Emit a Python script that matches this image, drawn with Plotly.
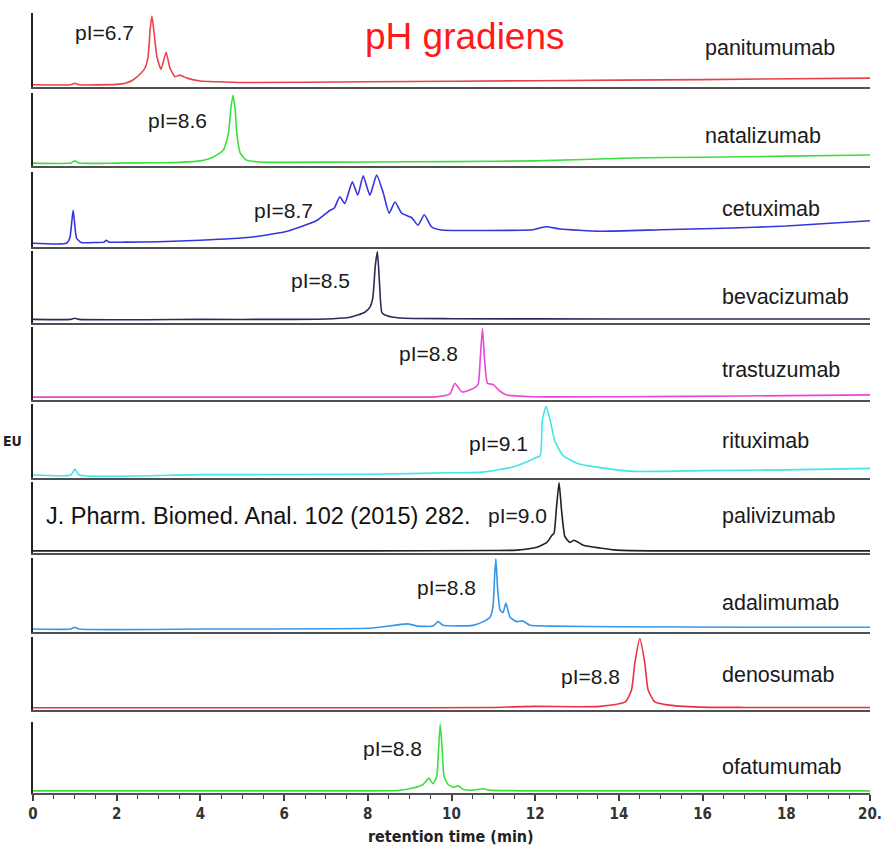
import plotly.graph_objects as go

# ---------------- data (retention time in min, signal in % of panel height) ----------------
names = ["panitumumab", "natalizumab", "cetuximab", "bevacizumab", "trastuzumab",
         "rituximab", "palivizumab", "adalimumab", "denosumab", "ofatumumab"]
pi_labels = ["pI=6.7", "pI=8.6", "pI=8.7", "pI=8.5", "pI=8.8",
             "pI=9.1", "pI=9.0", "pI=8.8", "pI=8.8", "pI=8.8"]

panitumumab_t = [0, 0.9, 1.0, 1.1, 2.0, 2.2, 2.39, 2.6, 2.68, 2.75, 2.8, 2.84, 2.89, 2.96, 3.06, 3.18, 3.27, 3.39, 3.51, 3.68, 4.0, 4.4, 5.0, 8, 12, 16, 20]
panitumumab_y = [3, 3, 5, 3, 3.5, 5, 9.5, 20, 26, 41, 78, 96, 75, 41, 24, 47, 26, 14, 16, 12, 8, 7, 6, 7, 8.5, 10, 12]

natalizumab_t = [0, 0.9, 1.0, 1.1, 2, 3, 3.5, 4.0, 4.3, 4.55, 4.67, 4.73, 4.78, 4.83, 4.87, 4.95, 5.1, 5.6, 6, 8, 10, 12, 14.3, 16, 18, 20]
natalizumab_y = [4, 4, 7, 4, 4, 4.5, 5, 7, 12, 22, 45, 80, 97, 78, 45, 18, 8, 5, 5, 5.5, 6, 7, 11, 12, 13.5, 15]

cetuximab_t = [0, 0.8, 0.88, 0.96, 1.04, 1.15, 1.5, 1.7, 1.75, 1.82, 2.2, 3, 4, 5.2, 6.0, 6.4, 6.8, 7.1, 7.2, 7.33, 7.45, 7.63, 7.76, 7.89, 8.05, 8.21, 8.37, 8.51, 8.65, 8.81, 9.05, 9.2, 9.35, 9.52, 9.72, 10.0, 10.4, 11.95, 12.15, 12.28, 12.6, 13.55, 15, 16.5, 18, 20]
cetuximab_y = [5, 5, 12, 49, 12, 6, 6, 6.5, 9, 6.5, 6.5, 7, 9, 13, 20, 27, 36, 49, 52, 67, 58, 87, 69, 95, 69, 96, 72, 45, 60, 45, 39, 29, 43, 27, 23, 22, 22, 23, 26, 27, 24, 21, 23, 25, 28, 35]

bevacizumab_t = [0, 0.9, 1.0, 1.1, 4, 6, 7.17, 7.57, 7.93, 8.05, 8.12, 8.18, 8.23, 8.28, 8.34, 8.46, 8.77, 10, 14, 20]
bevacizumab_y = [5, 5, 6.5, 5, 5, 5, 6, 8, 15, 22, 35, 80, 99, 55, 14, 10, 7, 6, 5.5, 5.5]

trastuzumab_t = [0, 4, 8, 9.5, 9.72, 9.96, 10.08, 10.25, 10.45, 10.58, 10.64, 10.69, 10.74, 10.79, 10.86, 11.0, 11.12, 11.32, 11.95, 14, 17, 20]
trastuzumab_y = [4, 4, 4, 4, 5, 8, 23, 11, 14, 18, 22, 60, 98, 55, 23, 21, 14, 7, 4.5, 4.5, 5.5, 7]

rituximab_t = [0, 0.9, 1.0, 1.1, 4, 8, 9.96, 10.75, 11.47, 11.8, 12.0, 12.12, 12.17, 12.26, 12.35, 12.47, 12.67, 13.0, 13.55, 14.34, 16, 18, 20]
rituximab_y = [4, 4, 12, 4, 4.5, 5, 7, 8, 15, 22, 27, 30, 78, 97, 80, 50, 30, 20, 14, 9, 10, 11, 13]

palivizumab_t = [0, 4, 8, 11.0, 11.56, 12.04, 12.28, 12.4, 12.45, 12.51, 12.57, 12.63, 12.71, 12.83, 12.93, 13.15, 13.55, 13.95, 15, 20]
palivizumab_y = [3, 3, 3, 3.5, 4, 8, 15, 25, 28, 65, 99, 60, 23, 15, 18, 11, 7, 4, 3, 3]

adalimumab_t = [0, 0.9, 1.0, 1.1, 4, 8.0, 8.36, 8.94, 9.2, 9.56, 9.68, 9.8, 10.51, 10.76, 10.92, 10.99, 11.03, 11.06, 11.1, 11.16, 11.23, 11.3, 11.4, 11.56, 11.7, 11.88, 12.35, 14, 17, 20]
adalimumab_y = [4, 4, 6.5, 4, 4, 5, 7, 11, 8, 8, 14, 9, 9, 14, 20, 34, 75, 99, 60, 30, 26, 39, 20, 14, 15, 9, 8, 7, 6.5, 6.5]

denosumab_t = [0, 4, 8, 11, 12, 13, 13.55, 14.15, 14.3, 14.38, 14.5, 14.62, 14.7, 14.86, 15.15, 15.94, 17, 20]
denosumab_y = [3, 3, 3, 3.5, 5, 4.5, 5, 11, 27, 64, 98, 64, 27, 11, 7, 4, 3.5, 3.5]

ofatumumab_t = [0, 4, 8, 8.7, 9.08, 9.32, 9.46, 9.56, 9.65, 9.69, 9.73, 9.78, 9.82, 9.92, 10.05, 10.16, 10.28, 10.5, 10.76, 10.9, 12, 16, 20]
ofatumumab_y = [3, 3, 3, 3.5, 7, 12, 21, 13, 24, 60, 97, 60, 24, 12, 8, 10, 5, 4, 6, 4, 3, 3, 3]

series_t = [panitumumab_t, natalizumab_t, cetuximab_t, bevacizumab_t, trastuzumab_t,
            rituximab_t, palivizumab_t, adalimumab_t, denosumab_t, ofatumumab_t]
series_y = [panitumumab_y, natalizumab_y, cetuximab_y, bevacizumab_y, trastuzumab_y,
            rituximab_y, palivizumab_y, adalimumab_y, denosumab_y, ofatumumab_y]

tick_vals = [0, 2, 4, 6, 8, 10, 12, 14, 16, 18, 20]
tick_text = ["0", "2", "4", "6", "8", "10", "12", "14", "16", "18", "20."]

# ---------------- styling / layout ----------------
colors = ["#e8434b", "#3ede3e", "#3535dc", "#2b2b5a", "#ea45dc",
          "#40e6ea", "#202020", "#3597ea", "#ec3040", "#3ede3e"]

W, H = 885, 851
ML, MR, MT, MB = 33, 15, 0, 58
PW, PH = W - ML - MR, H - MT - MB

panel_px = [(13, 87), (93, 166), (172, 247), (251, 323), (327, 400),
            (404, 478), (482, 553), (558, 632), (637, 710), (722, 793)]

def px_x(px):
    return (px - ML) / PW

def px_y(py):
    return (MT + PH - py) / PH

narrow = "Liberation Sans Narrow, Arial Narrow, DejaVu Sans Condensed, sans-serif"

fig = go.Figure()
layout = dict(width=W, height=H, margin=dict(l=ML, r=MR, t=MT, b=MB),
              paper_bgcolor="white", plot_bgcolor="white", showlegend=False)

for i in range(10):
    k = "" if i == 0 else str(i + 1)
    fig.add_trace(go.Scatter(x=series_t[i], y=series_y[i], mode="lines",
                             line=dict(color=colors[i], width=1.6, shape="spline", smoothing=0.5),
                             xaxis="x" + k, yaxis="y" + k, hoverinfo="skip"))
    top, bot = panel_px[i]
    last = (i == 9)
    xa = dict(domain=[0, 1], range=[0, 20], anchor="y" + k, showgrid=False, zeroline=False,
              showline=True, linecolor="#505050", linewidth=2.4, mirror=False,
              showticklabels=last, ticks="outside" if last else "",
              fixedrange=True)
    if i > 0:
        xa["matches"] = "x"
    if last:
        xa.update(tickmode="array", tickvals=tick_vals, ticktext=tick_text,
                  ticklen=6, tickwidth=1.5, tickcolor="#404040",
                  tickfont=dict(family=narrow, size=15, color="#333333", weight="bold"),
                  minor=dict(dtick=0.5, tick0=0, ticks="outside", ticklen=4, tickwidth=1.2, tickcolor="#404040"))
    ya = dict(domain=[px_y(bot), px_y(top)], range=[0, 100], anchor="x" + k,
              showgrid=False, zeroline=False, showline=True, linecolor="#222222",
              linewidth=1.5, showticklabels=False, ticks="", fixedrange=True)
    layout["xaxis" + k] = xa
    layout["yaxis" + k] = ya

annotations = []
txt_font = "Liberation Sans, Arial, sans-serif"

# sample names
name_px = [(703, 48), (703, 136), (720, 209), (720, 297), (720, 370),
           (720, 441), (720, 516), (720, 603), (720, 675), (720, 767)]
for n, (x, y) in zip(names, name_px):
    annotations.append(dict(text=n, xref="paper", yref="paper", x=px_x(x), y=px_y(y),
                            xanchor="left", yanchor="middle", showarrow=False,
                            font=dict(family=txt_font, size=21.5, color="#1a1a1a")))

# pI labels
pi_px = [(104, 32), (177, 121), (283, 210), (320, 280), (428, 353),
         (499, 443), (517, 515), (446, 587), (590, 676), (392, 748)]
for t, (x, y) in zip(pi_labels, pi_px):
    annotations.append(dict(text=t, xref="paper", yref="paper", x=px_x(x), y=px_y(y),
                            xanchor="center", yanchor="middle", showarrow=False,
                            font=dict(family=txt_font, size=21, color="#1a1a1a")))

annotations += [
    dict(text="pH gradiens", xref="paper", yref="paper", x=px_x(465), y=px_y(37),
         xanchor="center", yanchor="middle", showarrow=False,
         font=dict(family=txt_font, size=37, color="#ff1a1a")),
    dict(text="J. Pharm. Biomed. Anal. 102 (2015) 282.", xref="paper", yref="paper",
         x=px_x(44), y=px_y(516), xanchor="left", yanchor="middle", showarrow=False,
         font=dict(family=txt_font, size=23.5, color="#111111")),
    dict(text="EU", xref="paper", yref="paper", x=px_x(1), y=px_y(441),
         xanchor="left", yanchor="middle", showarrow=False,
         font=dict(family=narrow, size=14, color="#222222", weight="bold")),
    dict(text="retention time (min)", xref="paper", yref="paper", x=px_x(451), y=px_y(836),
         xanchor="center", yanchor="middle", showarrow=False,
         font=dict(family=narrow, size=16, color="#222222", weight="bold")),
]
layout["annotations"] = annotations
fig.update_layout(**layout)
fig.write_html("out.html")
